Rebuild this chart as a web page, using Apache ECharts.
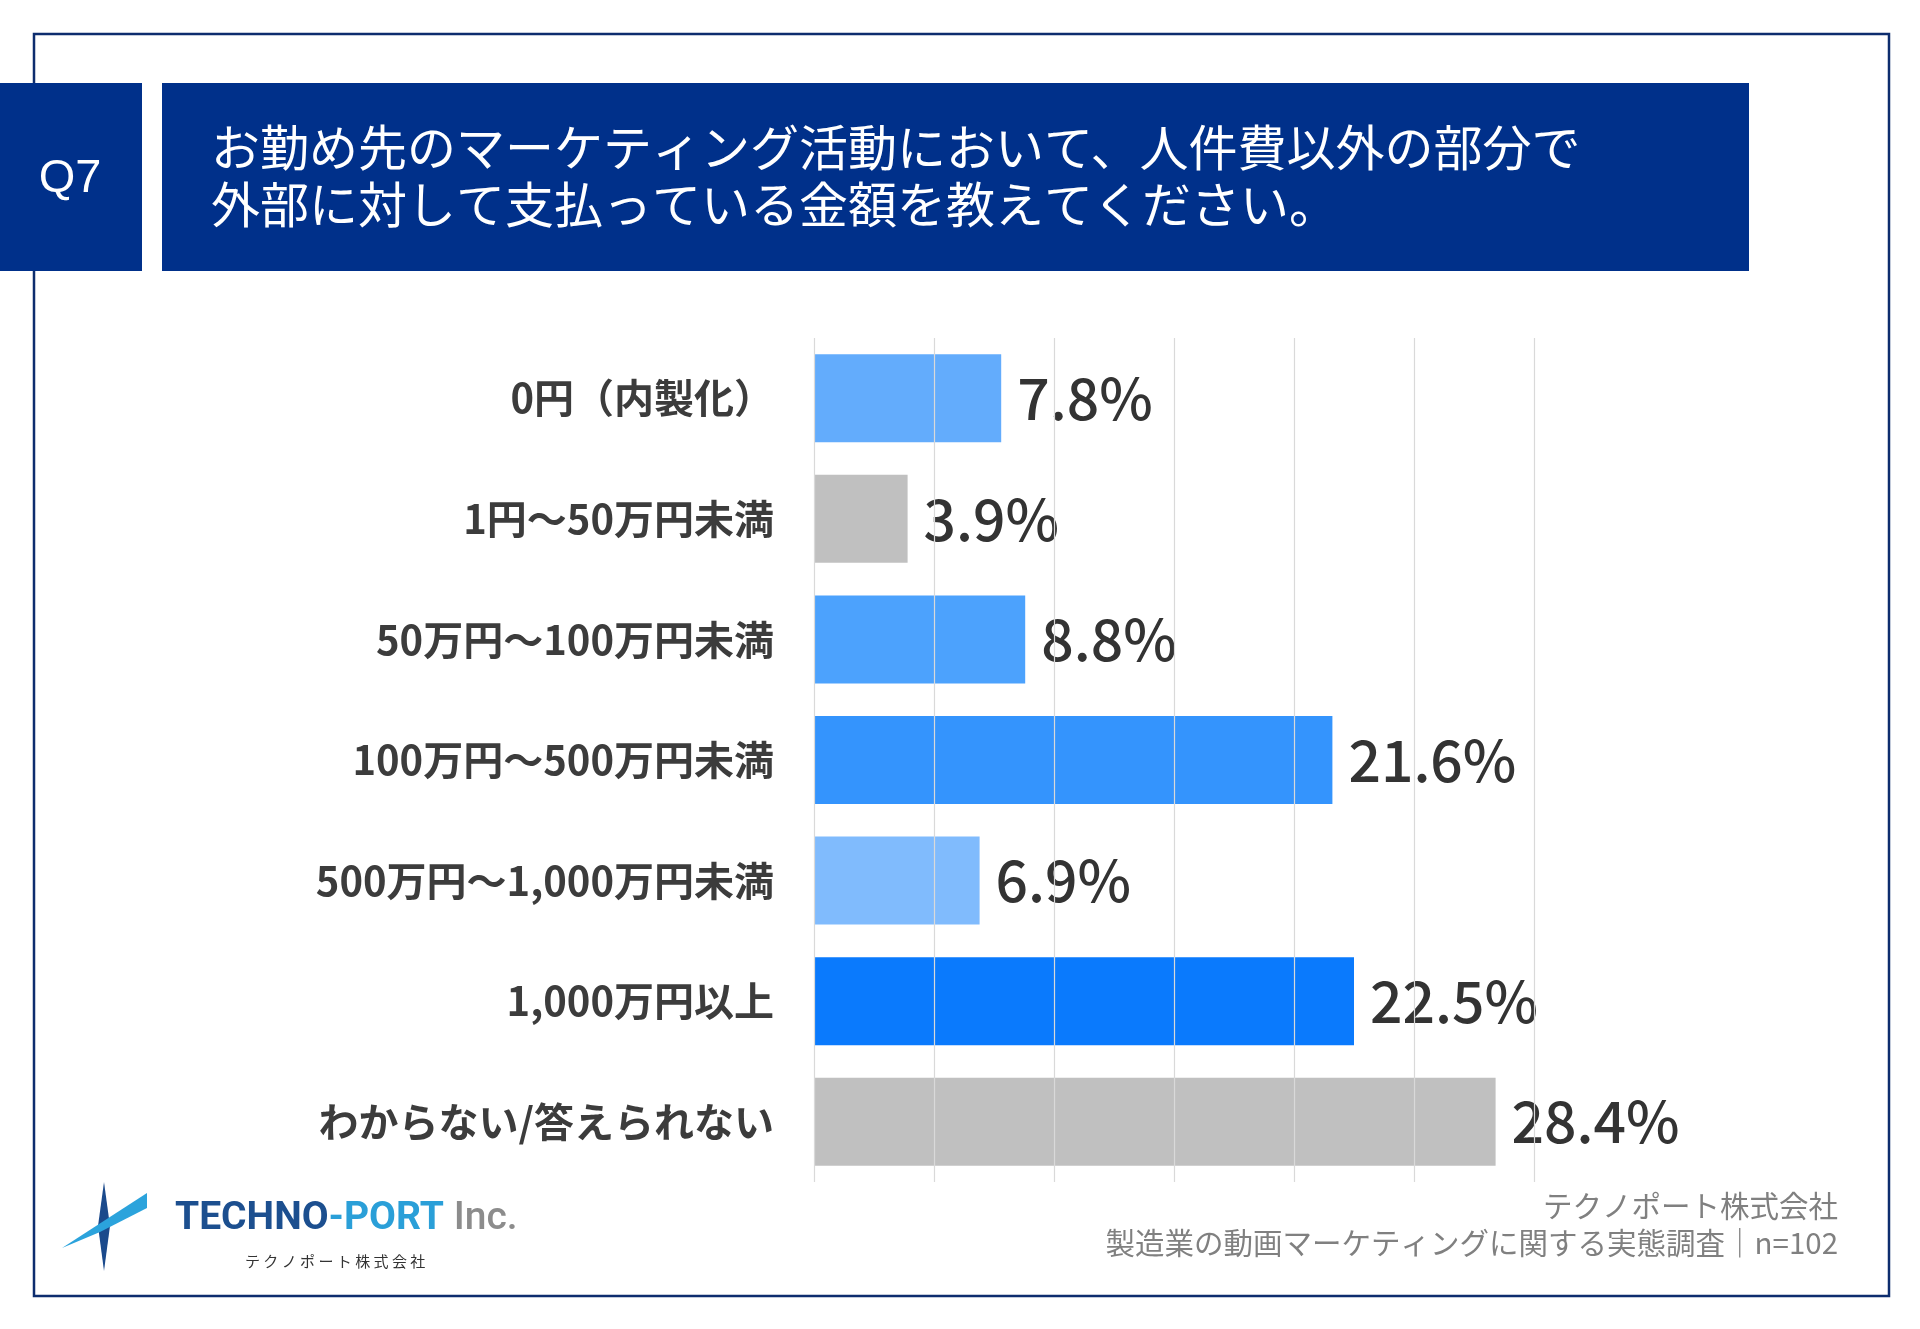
<!DOCTYPE html>
<html>
<head>
<meta charset="utf-8">
<script src="https://cdn.jsdelivr.net/npm/echarts@6/dist/echarts.min.js"></script>
<style>
  html, body { margin: 0; padding: 0; background: #fff; }
  #chart { width: 1920px; height: 1329px; }
</style>
</head>
<body>
<div id="chart"></div>
<script>
var categories = ['0円（内製化）', '1円〜50万円未満', '50万円〜100万円未満', '100万円〜500万円未満',
                  '500万円〜1,000万円未満', '1,000万円以上', 'わからない/答えられない'];
var values = [7.8, 3.9, 8.8, 21.6, 6.9, 22.5, 28.4];
var barColors = ['#63acfc', '#c0c0c0', '#4ca2fd', '#3494fd', '#80bbfd', '#0a7afd', '#c0c0c0'];
var axisTicks = [0, 5, 10, 15, 20, 25, 30];

var chart = echarts.init(document.getElementById('chart'));
var cjk = '"Noto Sans CJK JP", "Noto Sans", sans-serif';
var navy = '#00308a';

var option = {
    backgroundColor: '#ffffff',
    animation: false,
    grid: { left: 814, top: 338, width: 720, height: 844, containLabel: false },
    xAxis: {
        type: 'value',
        min: axisTicks[0],
        max: axisTicks[axisTicks.length - 1],
        interval: axisTicks[1] - axisTicks[0],
        z: 3,
        axisLine: { show: false },
        axisTick: { show: false },
        axisLabel: { show: false },
        splitLine: { show: true, lineStyle: { color: '#d9d9d9', width: 1.2 } }
    },
    yAxis: {
        type: 'category',
        inverse: true,
        data: categories,
        axisLine: { show: false },
        axisTick: { show: false },
        axisLabel: {
            margin: 40,
            fontFamily: cjk,
            fontSize: 40,
            fontWeight: 'bold',
            color: '#3c3c3c'
        }
    },
    series: [{
        type: 'bar',
        barWidth: 88,
        data: values.map(function (v, i) {
            return { value: v, itemStyle: { color: barColors[i] } };
        }),
        label: {
            show: true,
            position: 'right',
            distance: 16,
            fontFamily: cjk,
            fontSize: 57,
            fontWeight: 500,
            color: '#333333',
            formatter: function (p) { return p.value.toFixed(1) + '%'; }
        }
    }],
    graphic: [
        // outer frame
        { type: 'rect', z: 0, shape: { x: 34, y: 34, width: 1855, height: 1262 },
          style: { fill: 'none', stroke: '#0d2d6e', lineWidth: 2.5 } },
        // Q7 box
        { type: 'rect', z: 10, shape: { x: 0, y: 83, width: 142, height: 188 }, style: { fill: navy } },
        { type: 'text', z: 11, x: 70, y: 179,
          style: { text: 'Q7', fill: '#fff', fontSize: 47, fontFamily: '"Liberation Sans", Arial, sans-serif',
                   align: 'center', verticalAlign: 'middle' } },
        // title box
        { type: 'rect', z: 10, shape: { x: 162, y: 83, width: 1587, height: 188 }, style: { fill: navy } },
        { type: 'text', z: 11, x: 211, y: 147,
          style: { text: 'お勤め先のマーケティング活動において、人件費以外の部分で', fill: '#fff',
                   fontSize: 49, fontFamily: cjk, verticalAlign: 'middle' } },
        { type: 'text', z: 11, x: 211, y: 204,
          style: { text: '外部に対して支払っている金額を教えてください。', fill: '#fff',
                   fontSize: 49, fontFamily: cjk, verticalAlign: 'middle' } },
        // footer, right
        { type: 'text', z: 11, x: 1838, y: 1206,
          style: { text: 'テクノポート株式会社', fill: '#808080', fontSize: 29.5, fontFamily: cjk,
                   align: 'right', verticalAlign: 'middle' } },
        { type: 'text', z: 11, x: 1838, y: 1243,
          style: { text: '製造業の動画マーケティングに関する実態調査｜n=102', fill: '#808080', fontSize: 29.5,
                   fontFamily: cjk, align: 'right', verticalAlign: 'middle' } },
        // logo mark
        { type: 'polygon', z: 11,
          shape: { points: [[104, 1182], [110, 1226], [104, 1271], [98, 1226]] },
          style: { fill: '#1b4a8c' } },
        { type: 'polygon', z: 12,
          shape: { points: [[62, 1248], [147, 1193], [147, 1208], [100, 1232]] },
          style: { fill: '#2ba3dc' } },
        // logo text
        { type: 'text', z: 11, x: 175, y: 1219,
          style: { text: '{a|TECHNO}{b|-PORT}{c| Inc.}', verticalAlign: 'middle',
                   rich: {
                       a: { fontSize: 39, fontWeight: 'bold', fontFamily: 'Roboto', fill: '#1c4f8f' },
                       b: { fontSize: 39, fontWeight: 'bold', fontFamily: 'Roboto', fill: '#2a9fd8' },
                       c: { fontSize: 39, fontWeight: 500, fontFamily: 'Roboto', fill: '#8c8c8c' }
                   } } },
        { type: 'text', z: 11, x: 245, y: 1261,
          style: { text: 'テ ク ノ ポ ー ト 株 式 会 社', fill: '#333', fontSize: 15, fontFamily: cjk,
                   verticalAlign: 'middle' } }
    ]
};

chart.setOption(option);
</script>
</body>
</html>
